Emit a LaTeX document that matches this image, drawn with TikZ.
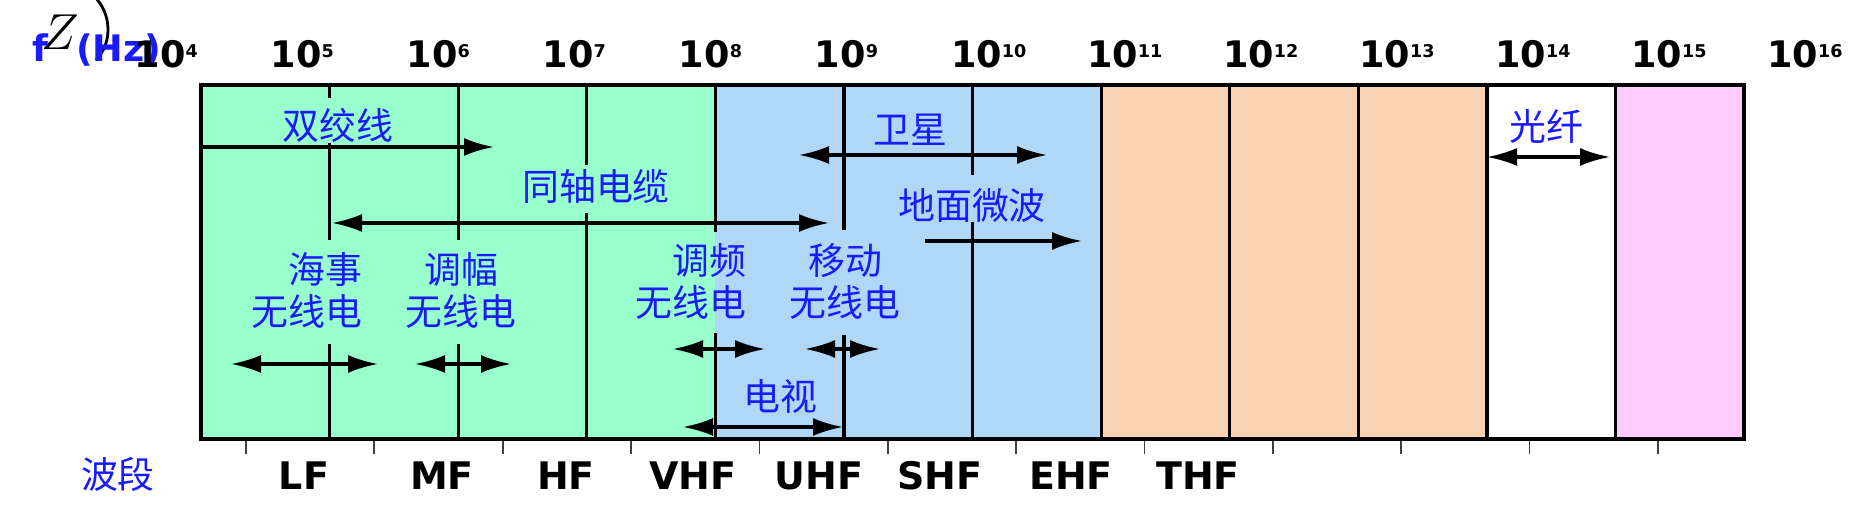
\documentclass[tikz,border=0pt]{standalone}
\usepackage{fontspec}
\usetikzlibrary{arrows.meta,backgrounds}
\newfontfamily\spsans{DejaVu Sans}
\newfontfamily\spcjk{Noto Sans CJK SC}
\definecolor{spgreen}{HTML}{99FFCC}
\definecolor{spblue}{HTML}{B0D7F5}
\definecolor{sporange}{HTML}{FAD3B4}
\definecolor{sppink}{HTML}{FFCCFF}
\definecolor{sptext}{HTML}{1A1AFF}
\newcommand\spsup[1]{\raisebox{2.85pt}{\fontsize{5}{5}\selectfont #1}}
\tikzset{
  sppow/.style={anchor=base west, inner sep=0pt, font=\spsans\bfseries\fontsize{10.4}{12}\selectfont},
  spband/.style={anchor=base, inner sep=0pt, font=\spsans\bfseries\fontsize{10.8}{12}\selectfont},
  spuse/.style={text=sptext, inner sep=0pt, align=center, font=\spcjk\fontsize{10.5}{11.95}\selectfont},
  spline/.style={line width=0.95pt, black},
  sparrow/.style={line width=0.9pt, -{Latex[length=3mm, width=1.8mm]}},
  spboth/.style={line width=0.9pt, {Latex[length=3mm, width=1.8mm]}-{Latex[length=3mm, width=1.8mm]}},
  sptick/.style={line width=0.5pt, black!75}
}

\begin{document}
\begin{tikzpicture}
  \useasboundingbox (0,0) rectangle (18.53,5.12);
  % colour bands
  \begin{scope}[on background layer]
    \fill[spgreen] (2.01,0.73) rectangle (7.154,4.27);
    \fill[spblue] (7.154,0.73) rectangle (11.012,4.27);
    \fill[sporange] (11.012,0.73) rectangle (14.87,4.27);
    \fill[white] (14.87,0.73) rectangle (16.156,4.27);
    \fill[sppink] (16.156,0.73) rectangle (17.442,4.27);
  \end{scope}

  % decade lines, broken where the labels sit
  \draw[spline] (3.296,4.27) -- (3.296,4.14) (3.296,3.69) -- (3.296,2.72) (3.296,1.68) -- (3.296,0.73);
  \draw[spline] (4.582,4.27) -- (4.582,2.72) (4.582,1.68) -- (4.582,0.73);
  \draw[spline] (5.868,4.27) -- (5.868,3.47) (5.868,2.99) -- (5.868,0.73);
  \draw[spline] (7.154,4.27) -- (7.154,2.80) (7.154,1.79) -- (7.154,0.73);
  \draw[spline] (8.44,4.27) -- (8.44,2.82) (8.44,1.77) -- (8.44,0.73);
  \draw[spline] (9.726,4.27) -- (9.726,3.37) (9.726,2.90) -- (9.726,0.73);
  \foreach \x in {11.012,12.298,13.584,14.87,16.156}
    \draw[spline] (\x,4.27) -- (\x,0.73);
  \draw[line width=1.15pt] (2.01,0.73) rectangle (17.442,4.27);

  % frequency axis
  \node[font=\fontsize{14}{16}\selectfont, inner sep=0pt] (zz) at (0.60,4.80) {$Z$};
  \draw[line width=0.8pt] (0.93,5.17) .. controls (1.13,4.98) and (1.12,4.68) .. (0.96,4.52);
  \node[sppow, text=sptext] (fhz) at (0.32,4.50) {f\hspace{0.75em}(Hz)};
  \foreach \e [count=\i from 0] in {4,...,16}
    \node[sppow] (p\e) at ({1.34+1.3605*\i},4.44) {10\spsup{\e}};

  % band names
  \foreach \i in {0,...,11}
    \draw[sptick] ({2.46+1.2836*\i},0.71) -- ++(0,-0.13);
  \node[spuse] (band) at (1.18,0.375) {波段};
  \node[spband] (lf) at (3.04,0.22) {LF};
  \node[spband] (mf) at (4.42,0.22) {MF};
  \node[spband] (hf) at (5.66,0.22) {HF};
  \node[spband] (vhf) at (6.93,0.22) {VHF};
  \node[spband] (uhf) at (8.19,0.22) {UHF};
  \node[spband] (shf) at (9.40,0.22) {SHF};
  \node[spband] (ehf) at (10.71,0.22) {EHF};
  \node[spband] (thf) at (11.98,0.22) {THF};

  % uses
  \node[spuse] (twp) at (3.38,3.87) {双绞线};
  \node[spuse] (coax) at (5.96,3.25) {同轴电缆};
  \node[spuse] (sat) at (9.10,3.82) {卫星};
  \node[spuse] (mw) at (9.72,3.06) {地面微波};
  \node[spuse] (fib) at (15.46,3.86) {光纤};
  \node[spuse] (tv) at (7.80,1.15) {电视};
  \node[spuse, align=right, anchor=east] (mar) at (3.63,2.215) {海事\\无线电};
  \node[spuse] (am) at (4.61,2.215) {调幅\\无线电};
  \node[spuse, align=right, anchor=east] (fm) at (7.47,2.31) {调频\\无线电};
  \node[spuse] (mob) at (8.45,2.31) {移动\\无线电};

  \coordinate (twpA) at (2.01,3.65);  \coordinate (twpB) at (4.94,3.65);
  \coordinate (coaxA) at (3.32,2.89); \coordinate (coaxB) at (8.29,2.89);
  \coordinate (satA) at (7.99,3.57);  \coordinate (satB) at (10.47,3.57);
  \coordinate (mwA) at (9.25,2.71);   \coordinate (mwB) at (10.82,2.71);
  \coordinate (fibA) at (14.87,3.55); \coordinate (fibB) at (16.10,3.55);
  \coordinate (marA) at (2.31,1.48);  \coordinate (marB) at (3.78,1.48);
  \coordinate (amA) at (4.15,1.48);   \coordinate (amB) at (5.11,1.48);
  \coordinate (fmA) at (6.73,1.63);   \coordinate (fmB) at (7.65,1.63);
  \coordinate (mobA) at (8.05,1.63);  \coordinate (mobB) at (8.80,1.63);
  \coordinate (tvA) at (6.83,0.85);   \coordinate (tvB) at (8.43,0.85);
  \draw[sparrow] (twpA) -- (twpB);
  \draw[spboth] (coaxA) -- (coaxB);
  \draw[spboth] (satA) -- (satB);
  \draw[sparrow] (mwA) -- (mwB);
  \draw[spboth] (fibA) -- (fibB);
  \draw[spboth] (marA) -- (marB);
  \draw[spboth] (amA) -- (amB);
  \draw[spboth] (fmA) -- (fmB);
  \draw[spboth] (mobA) -- (mobB);
  \draw[spboth] (tvA) -- (tvB);
\end{tikzpicture}
\end{document}
